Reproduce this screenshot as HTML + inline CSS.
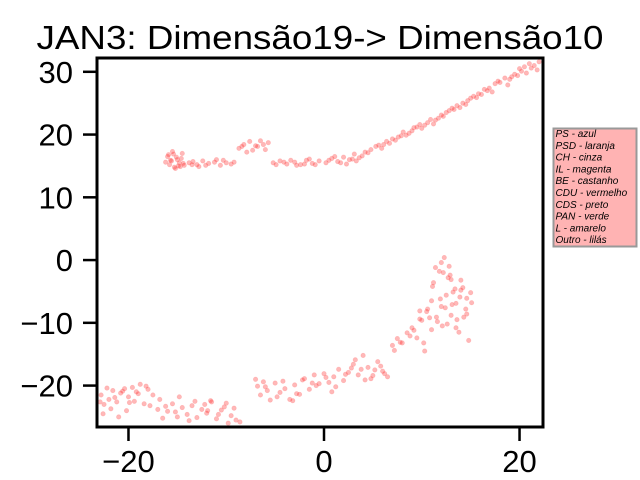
<!DOCTYPE html>
<html><head><meta charset="utf-8"><style>
html,body{margin:0;padding:0;background:#fff;}
svg{display:block;font-family:"Liberation Sans",sans-serif;}
</style></head><body>
<svg id="chart" width="640" height="480" viewBox="0 0 640 480" xmlns="http://www.w3.org/2000/svg">
<text x="320" y="49" text-anchor="middle" font-size="33" textLength="567" lengthAdjust="spacingAndGlyphs">JAN3: Dimensão19-&gt; Dimensão10</text>
<g id="points"></g>
<g id="axes"></g>
<g>
<rect x="553.5" y="128.5" width="83" height="118" fill="#ffb3b3" stroke="#999" stroke-width="2"/>
<g id="legend-text" font-size="10" font-style="italic"></g>
</g>
</svg>
<script>
const xTicks=[-20,0,20];
const yTicks=[-20,-10,0,10,20,30];
const legendLabels=["PS - azul","PSD - laranja","CH - cinza","IL - magenta","BE - castanho","CDU - vermelho","CDS - preto","PAN - verde","L - amarelo","Outro - lilás"];
const xUpper=[-16,-15.8,-15.5,-15.3,-15,-14.8,-14.5,-14.3,-15.9,-15.2,-14.6,-15.6,-14.9,-13.8,-13,-12.4,-11.8,-11.2,-10.6,-10,-9.5,-12.8,-11,-8.7,-8.2,-7.6,-7,-6.5,-6,-5.7,-7.9,-6.8,-5.2,-4.5,-3.8,-3,-2.4,-1.8,-1.2,-0.5,0.2,0.8,1.4,2,2.6,3.1,3.6,1.7,-2.8,4.2,4.8,5.3,5.9,6.4,7,7.6,8.1,8.7,9.2,9.8,10.3,10.9,11.4,12,12.5,13.1,13.6,14.2,14.7,15.3,15.8,16.4,16.9,17.5,18,18.5,19,19.5,20,20.5,21,21.5,22,18.8,17.2,12.8,9.5,6.1,20.7,21.8,
-15.7,-15.1,-14.4,-13.4,-12.1,-10.3,-9.2,-8.4,-7.3,-6.2,-4.9,-4.1,-3.4,-2,-1.5,-0.9,0.5,1.1,2.3,2.9,3.3,3.9,4.5,5.6,6.7,7.3,7.9,8.4,9,10,10.6,11.2,11.7,12.2,13.3,13.9,14.5,15,15.6,16.1,16.7,17.8,19.2,19.8,20.2,21.2,-16.2,-15.4,-14.7,-13.5];
const yUpper=[16.5,15.2,17.3,14.8,16,15.5,17,15.1,16.8,14.6,16.2,15.8,15,15.5,15.2,15.8,15.4,15.6,15.1,15.5,15.3,14.9,16,17.8,18.4,18.9,18.2,19,17.6,18.7,17.2,18.1,15.5,15.8,15.3,15.6,15.2,15.9,15.4,15.8,15.5,16.2,15.7,16.4,16,16.9,16.3,15.5,15.1,17.2,17.6,18.1,17.8,18.9,19.3,19.6,20.4,20.2,21.1,21.6,21.5,22.4,22.3,23.1,23.5,24.2,24.6,25,25.4,26.1,26.5,27.2,27.4,28.1,28.3,29,28.8,29.6,30.5,30.8,31.3,31,31.6,27.9,26.8,23.8,21.2,18.4,29.8,30.3,
15.9,16.4,15.4,15.7,15.1,15.9,15.6,18.1,17.5,18.4,15.2,15.6,15.9,15.3,16.1,15.2,15.9,16.5,15.3,16.1,15.8,16.6,17.1,18.3,18.6,19.1,19.8,19.9,20.6,21,21.9,21.7,22.6,22.9,24,24.3,24.8,25.8,25.9,26.4,27,28.5,29.2,29.4,30.1,30.6,15.6,16.9,14.9,15.2];
const xLower=[-22.8,-22.5,-22,-21.6,-21.2,-20.8,-20.4,-20,-19.6,-19.2,-18.8,-18.4,-18,-22.6,-21.8,-21,-20.2,-19.4,-17.5,-17,-16.5,-16,-15.5,-15,-14.5,-14,-13.5,-13,-12.5,-12,-11.5,-11,-10.5,-10,-9.5,-9,-16.8,-15.2,-13.8,-12.2,-10.8,-9.8,-11.6,-14.8,-7,-6.5,-6,-5.5,-5,-4.5,-4,-3.5,-3,-2.5,-2,-1.5,-1,-0.5,0,0.5,1,1.5,2,2.5,3,3.5,4,4.5,5,5.5,6,6.5,-5.8,-3.2,-1.2,0.8,2.8,4.8,7,7.5,8,8.5,9,9.5,10,10.5,11,11.5,12,12.5,13,13.5,14,14.5,15,11.2,11.8,12.3,12.9,13.4,14,14.6,10.8,12.1,13.2,11.6,12.7,13.8,9.8,10.3,14.8,12.4,
-22.9,-22.2,-21.4,-20.6,-19.9,-19,-18.2,-17.8,-16.2,-13.2,-11.9,-10.2,-9.2,-8.6,-6.8,-6.2,-4.8,-4.2,-2.8,-2.2,-0.8,0.2,1.2,2.2,3.2,3.8,4.2,5.2,5.8,6.2,7.2,7.8,8.8,9.2,9.8,10.6,11.1,11.4,11.9,12.6,13,13.6,14.2,14.6,15.1,12.2,13.1,13.9,11,12.8,14.3,13.5,10.2,12];
const yLower=[-21.5,-23,-22.2,-20.8,-22.6,-21.2,-20.5,-21.8,-20.3,-21,-19.8,-22.9,-20.6,-24.5,-23.7,-25,-24,-22.5,-21.5,-23.8,-25.2,-24.1,-22.9,-25,-23.5,-24.6,-23.2,-25.1,-23.8,-24.4,-22.6,-25.3,-23.9,-22.8,-24.8,-25.5,-22.2,-24.2,-25.6,-23,-24.6,-26,-22.4,-21.8,-19,-21.5,-20.2,-22.3,-19.6,-21.1,-20.5,-22.2,-19.9,-21.4,-18.9,-20.6,-18.3,-19.7,-18.1,-19.5,-18.6,-17.4,-19.2,-17.9,-16.6,-18.3,-15.2,-17.1,-18.4,-16.2,-17.7,-18.6,-20.8,-22.4,-19.6,-21,-17.2,-18.9,-13.6,-12.5,-13.2,-11.6,-10.8,-12.4,-9.6,-8.2,-6.5,-9.1,-7.4,-5.6,-8.8,-6.9,-4.8,-7.8,-5.2,-3.6,-1.8,0.4,-2.4,-4.6,-3.2,-6.1,-9.2,-10.5,-5.1,-9.8,-2.8,-11.5,-8.1,-14.5,-12.8,-7.6,
-22.6,-20.4,-21.9,-20.9,-22.7,-21.3,-20.1,-23.2,-23.3,-22.5,-24,-23.4,-23.6,-25.8,-20.1,-19.4,-21.8,-19.3,-21.3,-19.1,-20,-18.7,-20.2,-18.2,-15.9,-17.4,-19.1,-17.5,-16.9,-18.1,-14.4,-13.1,-12.1,-11.2,-9.4,-7.8,-4.2,-1.2,-6.2,-10.2,-3.1,-9.5,-4.4,-8.6,-6.8,-2,-7.1,-5.9,-11.1,-1,-9.1,-10.8,-13.2,-0.4];

const L=97,R=543,T=58,B=427;
const xMin=-23.22,xMax=22.4,yMin=-26.6,yMax=32.2;
function sx(v){return L+(v-xMin)/(xMax-xMin)*(R-L);}
function sy(v){return B-(v-yMin)/(yMax-yMin)*(B-T);}
const NS="http://www.w3.org/2000/svg";
const pts=document.getElementById('points');
function drawSeries(xs,ys){
  const n=Math.min(xs.length,ys.length);
  for(let i=0;i<n;i++){
    const c=document.createElementNS(NS,'circle');
    c.setAttribute('cx',sx(xs[i]));c.setAttribute('cy',sy(ys[i]));c.setAttribute('r',2.2);
    c.setAttribute('fill','rgba(255,0,0,0.28)');c.setAttribute('stroke','rgba(255,130,130,0.4)');c.setAttribute('stroke-width','0.7');
    
    
    pts.appendChild(c);
  }
}
drawSeries(xUpper,yUpper);
drawSeries(xLower,yLower);

const ax=document.getElementById('axes');
const frame=document.createElementNS(NS,'rect');
frame.setAttribute('x',L);frame.setAttribute('y',T);frame.setAttribute('width',R-L);frame.setAttribute('height',B-T);
frame.setAttribute('fill','none');frame.setAttribute('stroke','#000');frame.setAttribute('stroke-width','3');


ax.appendChild(frame);
xTicks.forEach(t=>{
  const x=sx(t);
  const l=document.createElementNS(NS,'line');
  l.setAttribute('x1',x);l.setAttribute('x2',x);l.setAttribute('y1',B);l.setAttribute('y2',B+14);
  l.setAttribute('stroke','#000');l.setAttribute('stroke-width','2.5');
  
  
  ax.appendChild(l);
  const tx=document.createElementNS(NS,'text');
  tx.setAttribute('x',x);tx.setAttribute('y',B+45);tx.setAttribute('text-anchor','middle');tx.setAttribute('font-size','31');
  tx.textContent=(t<0?'\u2212'+Math.abs(t):String(t));
  
  
  ax.appendChild(tx);
});
yTicks.forEach(t=>{
  const y=sy(t);
  const l=document.createElementNS(NS,'line');
  l.setAttribute('x1',L-14);l.setAttribute('x2',L);l.setAttribute('y1',y);l.setAttribute('y2',y);
  l.setAttribute('stroke','#000');l.setAttribute('stroke-width','2.5');
  
  
  ax.appendChild(l);
  const tx=document.createElementNS(NS,'text');
  tx.setAttribute('x',L-24);tx.setAttribute('y',y+11);tx.setAttribute('text-anchor','end');tx.setAttribute('font-size','31');
  tx.textContent=(t<0?'\u2212'+Math.abs(t):String(t));
  
  
  ax.appendChild(tx);
});
const lg=document.getElementById('legend-text');
legendLabels.forEach((s,i)=>{
  const tx=document.createElementNS(NS,'text');
  tx.setAttribute('x',555.5);tx.setAttribute('y',137+i*11.8);
  tx.textContent=s;
  
  
  lg.appendChild(tx);
});
</script>
</body></html>
